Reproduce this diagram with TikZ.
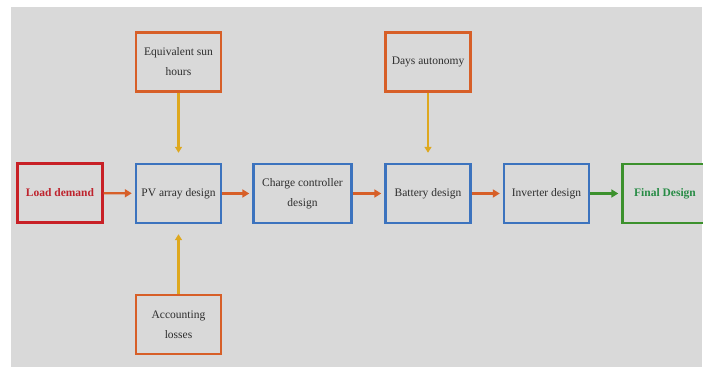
\documentclass[tikz,border=0pt]{standalone}
\usepackage{fontspec}
\setmainfont{Liberation Serif}
\usetikzlibrary{arrows.meta}
\definecolor{bg}{RGB}{217,217,217}
\definecolor{cred}{RGB}{200,32,38}
\definecolor{cblue}{RGB}{60,115,190}
\definecolor{cgreen}{RGB}{60,145,45}
\definecolor{corange}{RGB}{215,95,40}
\definecolor{cgold}{RGB}{222,168,30}
\definecolor{ctext}{RGB}{45,45,45}
\definecolor{ctred}{RGB}{190,35,45}
\definecolor{ctgreen}{RGB}{40,140,70}
\begin{document}
\begin{tikzpicture}[x=1pt,y=1pt,
  box/.style={draw,line width=2.4pt,fill=bg,minimum width=85pt,minimum height=59pt,
    align=center,font=\fontsize{11.5}{20}\selectfont,text=ctext,inner sep=2pt},
  bluebox/.style={box,draw=cblue},
  orangebox/.style={box,draw=corange},
  harrow/.style={draw=corange,line width=2.2pt,-{Triangle[length=7pt,width=8pt]},shorten >=3pt},
  varrow/.style={draw=cgold,line width=2.2pt,-{Triangle[length=6pt,width=7pt]},shorten >=10pt}]
\useasboundingbox (0,0) rectangle (703,367);
\fill[white] (0,0) rectangle (703,367);
\fill[bg] (11,0) rectangle (702,360);
\node[box,draw=cred,text=ctred,font=\fontsize{11.5}{20}\selectfont\bfseries] (load) at (60,174) {Load demand};
\node[bluebox] (pv) at (178.5,173.5) {PV array design};
\node[bluebox,minimum width=98pt] (cc) at (302.5,173.5) {Charge controller\\design};
\node[bluebox] (bat) at (428,173.5) {Battery design};
\node[bluebox] (inv) at (546.5,173.5) {Inverter design};
\node[box,draw=cgreen,text=ctgreen,font=\fontsize{11.5}{20}\selectfont\bfseries] (fin) at (665,173.5) {Final Design};
\node[orangebox] (esh) at (178.5,305) {Equivalent sun\\hours};
\node[orangebox] (days) at (428,305) {Days autonomy};
\node[orangebox] (acc) at (178.5,42.5) {Accounting\\losses};
\draw[harrow] (load) -- (pv);
\draw[harrow] (pv) -- (cc);
\draw[harrow] (cc) -- (bat);
\draw[harrow] (bat) -- (inv);
\draw[harrow,draw=cgreen] (inv) -- (fin);
\draw[varrow] (esh) -- (pv);
\draw[varrow] (days) -- (bat);
\draw[varrow] (acc) -- (pv);
\end{tikzpicture}
\end{document}
